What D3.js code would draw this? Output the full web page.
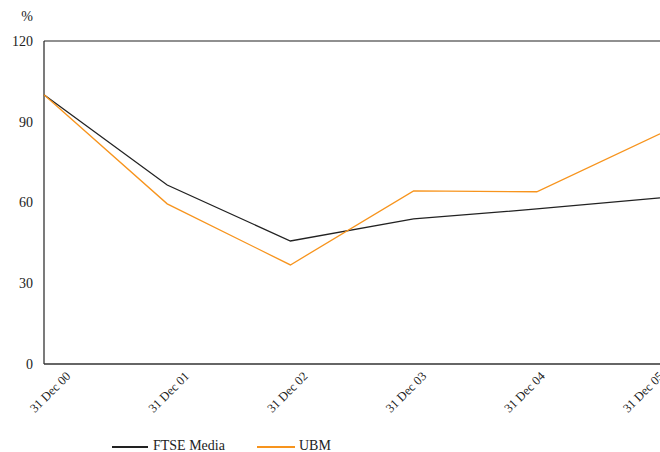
<!DOCTYPE html>
<html><head><meta charset="utf-8">
<script src="https://cdn.jsdelivr.net/npm/d3@7"></script>
<style>body{margin:0;background:#fff}svg{display:block}</style>
</head><body><svg id="c" width="660" height="452"></svg>
<script>
const categories = ["31 Dec 00","31 Dec 01","31 Dec 02","31 Dec 03","31 Dec 04","31 Dec 05"];
const ftse = [100, 66.5, 45.7, 53.9, 57.6, 61.7];
const ubm = [100, 59.5, 36.8, 64.3, 64.0, 85.5];
const yTicks = [0, 30, 60, 90, 120];
const seriesNames = ["FTSE Media", "UBM"];
const colors = ["#222222", "#f7941d"];
const FONT = "Liberation Serif, DejaVu Serif, serif";

const svg = d3.select("#c");
const L = 44, R = 660, T = 41, B = 364;
const x = d3.scalePoint().domain(categories).range([L, R]);
const xLabel = d3.scalePoint().domain(categories).range([50, 643]);
const y = d3.scaleLinear().domain([0, 120]).range([B, T]);

// frame
svg.append("line").attr("x1", L).attr("x2", 660).attr("y1", T).attr("y2", T).attr("stroke", "#222").attr("stroke-width", 1.2);
svg.append("line").attr("x1", L).attr("x2", L).attr("y1", T).attr("y2", B).attr("stroke", "#222").attr("stroke-width", 1.2);
svg.append("line").attr("x1", L).attr("x2", 660).attr("y1", B).attr("y2", B).attr("stroke", "#333").attr("stroke-width", 1.5);

// y labels
svg.selectAll(".yl").data(yTicks).enter().append("text")
  .attr("x", 33).attr("y", d => y(d)).attr("dy", "0.35em").attr("fill", "#222")
  .attr("text-anchor", "end").style("font-family", FONT).style("font-size", "14px").text(d => d);
svg.append("text").attr("x", 33).attr("y", 21).attr("text-anchor", "end").attr("fill", "#222")
  .style("font-family", FONT).style("font-size", "14px").text("%");

// x labels
svg.selectAll(".xl").data(categories).enter().append("text")
  .attr("transform", d => `translate(${xLabel(d)},392) rotate(-45)`).attr("fill", "#222")
  .attr("dy", "0.35em").attr("text-anchor", "middle")
  .style("font-family", FONT).style("font-size", "12.5px").text(d => d);

// lines
const line = d3.line().x((d, i) => x(categories[i])).y(d => y(d));
[ftse, ubm].forEach((s, i) => {
  svg.append("path").datum(s).attr("d", line).attr("fill", "none")
    .attr("stroke", colors[i]).attr("stroke-width", 1.3);
});

// legend
const leg = [{x1: 112, x2: 148, tx: 153}, {x1: 257, x2: 295, tx: 299}];
seriesNames.forEach((n, i) => {
  svg.append("line").attr("x1", leg[i].x1).attr("x2", leg[i].x2).attr("y1", 447).attr("y2", 447)
    .attr("stroke", colors[i]).attr("stroke-width", 2);
  svg.append("text").attr("x", leg[i].tx).attr("y", 450).attr("fill", "#222")
    .style("font-family", FONT).style("font-size", "14px").text(n);
});
</script></body></html>
